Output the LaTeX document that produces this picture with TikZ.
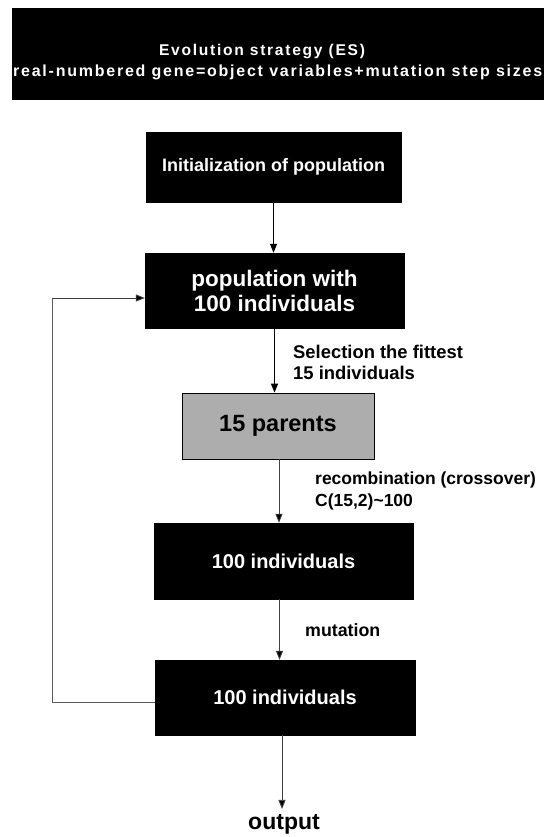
\documentclass[tikz,border=0pt]{standalone}
\usepackage{fontspec}
\setmainfont{Liberation Sans}
\newfontfamily\spacedfont[LetterSpace=11]{Liberation Sans}
\usetikzlibrary{arrows.meta}
\begin{document}
\begin{tikzpicture}[x=1pt,y=-1pt,
  blackbox/.style={rectangle,fill=black,draw=black,text=white,font=\bfseries,align=center,inner sep=0pt},
  greybox/.style={rectangle,fill=black!32,draw=black,line width=0.8pt,text=black,font=\bfseries,align=center,inner sep=0pt},
  lbl/.style={font=\bfseries,align=left,inner sep=0pt,anchor=west},
  arrA/.style={line width=1.4pt,-{Triangle[length=9pt,width=7pt]}},
  arrB/.style={line width=0.8pt,draw=black!75,-{Triangle[length=9pt,width=7pt,fill=black]}},
  fbline/.style={line width=0.8pt,draw=black!65}]
\useasboundingbox (0,0) rectangle (543,837);
% title box
\node[blackbox,minimum width=531pt,minimum height=91pt] (top) at (277.5,53.5) {};
\node[text=white,font=\spacedfont\bfseries\fontsize{15.6}{18}\selectfont,inner sep=0pt] (t1) at (262,52) {Evolution strategy (ES)};
\node[text=white,font=\spacedfont\bfseries\fontsize{16}{18}\selectfont,inner sep=0pt,anchor=west] (t2) at (13,72) {real-numbered gene=object variables+mutation step sizes};
% boxes
\node[blackbox,minimum width=255pt,minimum height=70pt,font=\bfseries\fontsize{18}{20}\selectfont] (init) at (273.5,167) {Initialization of population};
\node[blackbox,minimum width=259pt,minimum height=75pt,font=\bfseries\fontsize{22.5}{25}\selectfont] (pop) at (274.5,290.5) {population with\\100 individuals};
\node[greybox,minimum width=192pt,minimum height=66pt,font=\bfseries\fontsize{23.5}{26}\selectfont] (par) at (278,426) {15 parents};
\node[blackbox,minimum width=259pt,minimum height=76pt,font=\bfseries\fontsize{20}{22}\selectfont] (b3) at (283.5,561) {100 individuals};
\node[blackbox,minimum width=260pt,minimum height=75pt,font=\bfseries\fontsize{20}{22}\selectfont] (b4) at (285,697.5) {100 individuals};
\node[font=\bfseries\fontsize{23}{25}\selectfont,inner sep=0pt] (out) at (284,824) {output};
% labels
\node[lbl,font=\bfseries\fontsize{18.4}{21}\selectfont] (l1) at (293,362.5) {Selection the fittest\\15 individuals};
\node[lbl,font=\bfseries\fontsize{17.5}{22}\selectfont] (l2) at (315,491) {recombination (crossover)\\C(15,2)\textasciitilde100};
\node[lbl,font=\bfseries\fontsize{17.8}{20}\selectfont] (l3) at (305,630) {mutation};
% arrows
\draw[arrA] (init.south) -- (init.south |- pop.north);
\draw[arrA] (pop.south) -- (pop.south |- par.north);
\draw[arrB] ([xshift=1pt]par.south) -- ([xshift=1pt]par.south |- b3.north);
\draw[arrB] ([xshift=-4pt]b3.south) -- ([xshift=-4pt]b3.south |- b4.north);
\draw[arrB] ([xshift=-3pt]b4.south) -- ([xshift=-3pt,yshift=5pt]b4.south |- out.north);
% feedback
\coordinate (fa) at (52,702);
\coordinate (fb) at (52,298);
\draw[fbline] ([yshift=-4.5pt]b4.west) -- (fa) -- (fb);
\draw[arrB] (fb) -- ([yshift=-7.5pt]pop.west);
\end{tikzpicture}
\end{document}
